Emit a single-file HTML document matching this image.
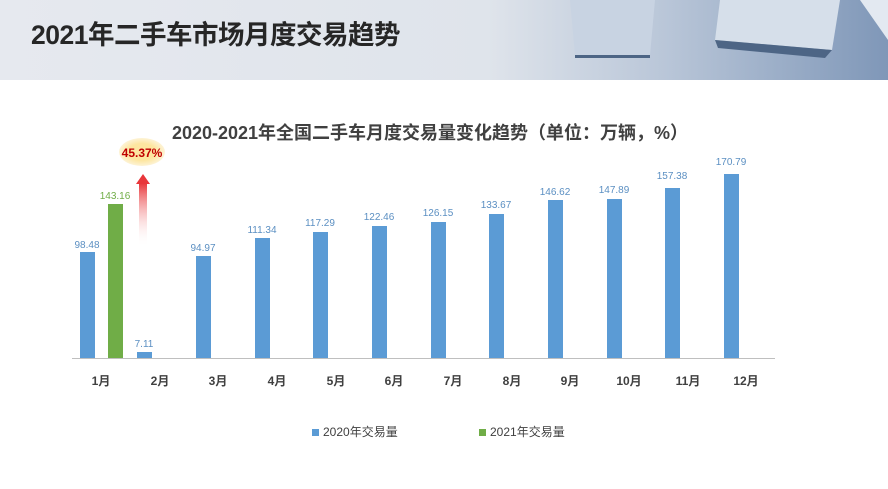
<!DOCTYPE html>
<html><head><meta charset="utf-8"><style>
body{margin:0;width:888px;height:489px;overflow:hidden;background:#fff;font-family:"Liberation Sans","Noto Sans CJK SC",sans-serif;position:relative}
.hdr{position:absolute;left:0;top:0;width:888px;height:80px;background:linear-gradient(90deg,#e6e9ef 0%,#dfe4eb 55%,#b9c6d8 75%,#7f97b8 100%)}
.t{position:absolute;left:31px;top:13px;font-size:26.5px;font-weight:bold;color:#262626;letter-spacing:-0.5px}
.ct{position:absolute;left:0;width:860px;text-align:center;top:119px;font-size:18px;font-weight:bold;color:#404040}
.lab{position:absolute;font-size:10px;text-align:center;width:50px;color:#5b8fc2}
.m{position:absolute;top:372px;font-size:12px;font-weight:bold;color:#404040;width:40px;text-align:center}
.lg{position:absolute;top:423px;font-size:12px;color:#404040}
.lg i{display:inline-block;width:7px;height:7px;margin-right:4px}
</style></head><body>
<div class="hdr"></div>
<svg style="position:absolute;left:570px;top:0" width="318" height="80">
<polygon points="0,0 85,0 80,55 5,55" fill="#c8d3e2"/>
<polygon points="150,0 270,0 262,50 145,40" fill="#d6dfea"/>
<polygon points="145,40 262,50 255,58 148,48" fill="#4d6585"/>
<polygon points="5,55 80,55 80,58 5,58" fill="#4d6585"/>
<polygon points="290,0 318,0 318,40" fill="#e3e9f1"/>
</svg>
<div class="t">2021年二手车市场月度交易趋势</div>
<div class="ct">2020-2021年全国二手车月度交易量变化趋势（单位：万辆，%）</div>
<svg style="position:absolute;left:0;top:0" width="888" height="489">
<defs><linearGradient id="ar" x1="0" y1="0" x2="0" y2="1"><stop offset="0" stop-color="#e8363a"/><stop offset="1" stop-color="#fff" stop-opacity="0"/></linearGradient>
<radialGradient id="el"><stop offset="0.6" stop-color="#fde6a0"/><stop offset="1" stop-color="#fdf3d6"/></radialGradient></defs>
<line x1="72" y1="358.5" x2="775" y2="358.5" stroke="#bfbfbf"/>
<g fill="#5b9bd5">
<rect x="80" y="252" width="15" height="106"/>
<rect x="137" y="352" width="15" height="6"/>
<rect x="196" y="256" width="15" height="102"/>
<rect x="255" y="238" width="15" height="120"/>
<rect x="313" y="232" width="15" height="126"/>
<rect x="372" y="226" width="15" height="132"/>
<rect x="431" y="222" width="15" height="136"/>
<rect x="489" y="214" width="15" height="144"/>
<rect x="548" y="200" width="15" height="158"/>
<rect x="607" y="199" width="15" height="159"/>
<rect x="665" y="188" width="15" height="170"/>
<rect x="724" y="174" width="15" height="184"/>
</g>
<rect x="108" y="204" width="15" height="154" fill="#70ad47"/>
<rect x="139" y="183" width="8" height="64" fill="url(#ar)"/>
<polygon points="136,184 143,174 150,184" fill="#e8363a"/>
<ellipse cx="142" cy="152" rx="23" ry="14" fill="url(#el)"/>
<text x="142" y="157" text-anchor="middle" font-size="12" font-weight="bold" fill="#c00000" font-family="Liberation Sans">45.37%</text>
</svg>
<div class="lab" style="left:62px;top:240px">98.48</div>
<div class="lab" style="left:90px;top:191px;color:#70ad47">143.16</div>
<div class="lab" style="left:119px;top:339px">7.11</div>
<div class="lab" style="left:178px;top:243px">94.97</div>
<div class="lab" style="left:237px;top:225px">111.34</div>
<div class="lab" style="left:295px;top:218px">117.29</div>
<div class="lab" style="left:354px;top:212px">122.46</div>
<div class="lab" style="left:413px;top:208px">126.15</div>
<div class="lab" style="left:471px;top:200px">133.67</div>
<div class="lab" style="left:530px;top:187px">146.62</div>
<div class="lab" style="left:589px;top:185px">147.89</div>
<div class="lab" style="left:647px;top:171px">157.38</div>
<div class="lab" style="left:706px;top:157px">170.79</div>
<div class="m" style="left:81px">1月</div>
<div class="m" style="left:140px">2月</div>
<div class="m" style="left:198px">3月</div>
<div class="m" style="left:257px">4月</div>
<div class="m" style="left:316px">5月</div>
<div class="m" style="left:374px">6月</div>
<div class="m" style="left:433px">7月</div>
<div class="m" style="left:492px">8月</div>
<div class="m" style="left:550px">9月</div>
<div class="m" style="left:609px">10月</div>
<div class="m" style="left:668px">11月</div>
<div class="m" style="left:726px">12月</div>
<div class="lg" style="left:312px"><i style="background:#5b9bd5"></i>2020年交易量</div>
<div class="lg" style="left:479px"><i style="background:#70ad47"></i>2021年交易量</div>
</body></html>
